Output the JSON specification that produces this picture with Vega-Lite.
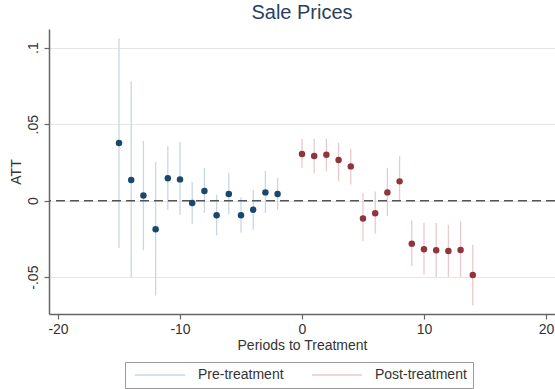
{
  "$schema": "https://vega.github.io/schema/vega-lite/v6.json",
  "width": 506,
  "height": 285,
  "autosize": "none",
  "padding": {"left": 49, "top": 29, "right": 0, "bottom": 75},
  "background": "white",
  "title": {"text": "Sale Prices", "fontSize": 20, "font": "Liberation Sans", "fontWeight": "normal", "color": "#2a3f5f", "offset": 6},
  "config": {
    "view": {"stroke": null},
    "font": "Liberation Sans",
    "axis": {"labelFont": "Liberation Sans", "titleFont": "Liberation Sans", "labelFontSize": 14, "titleFontSize": 14, "titleFontWeight": "normal", "labelColor": "#333333", "titleColor": "#333333", "domainColor": "#666666", "domainWidth": 1.5, "tickColor": "#666666", "tickWidth": 1.2, "tickSize": 5}
  },
  "data": {"values": [
    {"period": -15, "att": 0.0377, "lo": -0.031, "hi": 0.106, "group": "Pre-treatment"},
    {"period": -14, "att": 0.0135, "lo": -0.050, "hi": 0.078, "group": "Pre-treatment"},
    {"period": -13, "att": 0.0033, "lo": -0.0325, "hi": 0.039, "group": "Pre-treatment"},
    {"period": -12, "att": -0.0187, "lo": -0.0619, "hi": 0.0253, "group": "Pre-treatment"},
    {"period": -11, "att": 0.0146, "lo": -0.0059, "hi": 0.0355, "group": "Pre-treatment"},
    {"period": -10, "att": 0.0139, "lo": -0.0092, "hi": 0.0384, "group": "Pre-treatment"},
    {"period": -9, "att": -0.0015, "lo": -0.0152, "hi": 0.0122, "group": "Pre-treatment"},
    {"period": -8, "att": 0.0063, "lo": -0.008, "hi": 0.0214, "group": "Pre-treatment"},
    {"period": -7, "att": -0.0096, "lo": -0.0227, "hi": 0.004, "group": "Pre-treatment"},
    {"period": -6, "att": 0.0044, "lo": -0.009, "hi": 0.018, "group": "Pre-treatment"},
    {"period": -5, "att": -0.0096, "lo": -0.021, "hi": 0.002, "group": "Pre-treatment"},
    {"period": -4, "att": -0.0059, "lo": -0.019, "hi": 0.007, "group": "Pre-treatment"},
    {"period": -3, "att": 0.0054, "lo": -0.008, "hi": 0.0196, "group": "Pre-treatment"},
    {"period": -2, "att": 0.0044, "lo": -0.006, "hi": 0.0148, "group": "Pre-treatment"},
    {"period": 0, "att": 0.0305, "lo": 0.0214, "hi": 0.0405, "group": "Post-treatment"},
    {"period": 1, "att": 0.0292, "lo": 0.0181, "hi": 0.0405, "group": "Post-treatment"},
    {"period": 2, "att": 0.030, "lo": 0.0192, "hi": 0.0405, "group": "Post-treatment"},
    {"period": 3, "att": 0.0266, "lo": 0.0126, "hi": 0.038, "group": "Post-treatment"},
    {"period": 4, "att": 0.0224, "lo": 0.0105, "hi": 0.034, "group": "Post-treatment"},
    {"period": 5, "att": -0.0116, "lo": -0.0266, "hi": 0.005, "group": "Post-treatment"},
    {"period": 6, "att": -0.0083, "lo": -0.0216, "hi": 0.006, "group": "Post-treatment"},
    {"period": 7, "att": 0.0054, "lo": -0.0102, "hi": 0.0214, "group": "Post-treatment"},
    {"period": 8, "att": 0.0126, "lo": -0.0005, "hi": 0.029, "group": "Post-treatment"},
    {"period": 9, "att": -0.0281, "lo": -0.0429, "hi": -0.0129, "group": "Post-treatment"},
    {"period": 10, "att": -0.0318, "lo": -0.0484, "hi": -0.0146, "group": "Post-treatment"},
    {"period": 11, "att": -0.0325, "lo": -0.0499, "hi": -0.0146, "group": "Post-treatment"},
    {"period": 12, "att": -0.0329, "lo": -0.0499, "hi": -0.0157, "group": "Post-treatment"},
    {"period": 13, "att": -0.0322, "lo": -0.0499, "hi": -0.0135, "group": "Post-treatment"},
    {"period": 14, "att": -0.0486, "lo": -0.0686, "hi": -0.0288, "group": "Post-treatment"}
  ]},
  "layer": [
    {
      "mark": {"type": "rule", "strokeWidth": 1.3},
      "encoding": {
        "x": {"field": "period", "type": "quantitative", "scale": {"domain": [-20.74, 20.74], "nice": false, "zero": false},
          "axis": {"values": [-20, -10, 0, 10, 20], "grid": false, "title": "Periods to Treatment", "labelPadding": 3, "titlePadding": 2,
            "labelExpr": "(datum.value < 0 ? '-' : '') + format(abs(datum.value), 'd')"}},
        "y": {"field": "lo", "type": "quantitative", "scale": {"domain": [-0.0741, 0.1122], "nice": false, "zero": false},
          "axis": {"values": [-0.05, 0, 0.05, 0.1], "grid": true, "gridColor": "#e6e6e6", "gridWidth": 1, "title": "ATT", "labelAngle": 270, "labelAlign": "center", "labelBaseline": "bottom", "labelPadding": 4, "titlePadding": 3,
            "labelExpr": "datum.value == 0 ? '0' : (datum.value < 0 ? '-' : '') + replace(format(abs(datum.value), '.2~f'), '0.', '.')"}},
        "y2": {"field": "hi"},
        "color": {"field": "group", "type": "nominal",
          "scale": {"domain": ["Pre-treatment", "Post-treatment"], "range": ["#c9d6e4", "#ebc8cc"]},
          "legend": {"title": null, "orient": "none", "legendX": 76, "legendY": 333, "direction": "horizontal", "columns": 2,
            "symbolType": "M-0.6,0H9.4", "symbolSize": 100, "symbolStrokeWidth": 1.5, "labelFontSize": 14, "labelFont": "Liberation Sans", "labelColor": "#333333",
            "labelOffset": 53, "columnPadding": 24, "padding": 6, "strokeColor": "#999999", "fillColor": "white", "cornerRadius": 0}}
      }
    },
    {
      "data": {"values": [{"ref": 0}]},
      "mark": {"type": "rule", "color": "#555555", "strokeWidth": 1.5, "strokeDash": [9, 5]},
      "encoding": {"y": {"field": "ref", "type": "quantitative"}}
    },
    {
      "mark": {"type": "circle", "size": 42, "opacity": 1},
      "encoding": {
        "x": {"field": "period", "type": "quantitative"},
        "y": {"field": "att", "type": "quantitative"},
        "fill": {"field": "group", "type": "nominal", "scale": {"domain": ["Pre-treatment", "Post-treatment"], "range": ["#1a476f", "#90353b"]}, "legend": null}
      }
    }
  ]
}
